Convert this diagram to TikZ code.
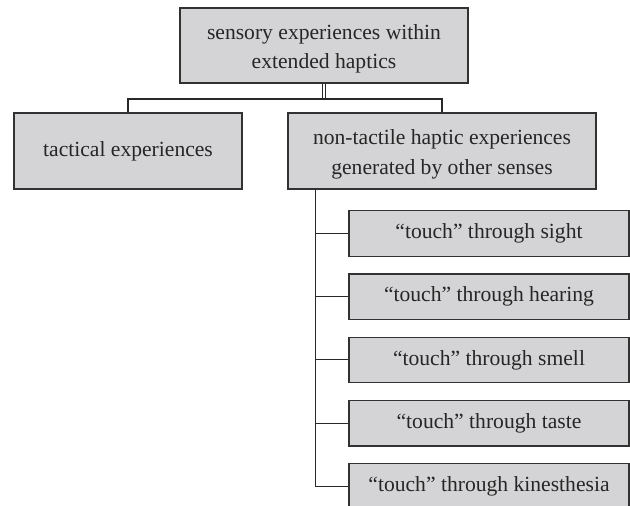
\documentclass[tikz,border=0pt]{standalone}
\usepackage{fontspec}
\setmainfont{Liberation Serif}
\definecolor{boxfill}{RGB}{212,212,214}
\definecolor{boxline}{RGB}{50,50,50}
\definecolor{wireline}{RGB}{40,40,40}
\newcommand{\toppad}{\rule{0pt}{22pt}}
\begin{document}
\begin{tikzpicture}[x=1pt,y=-1pt,
  box/.style={draw=boxline, line width=1.2pt, fill=boxfill, align=center,
    inner sep=0pt, font=\fontsize{21.6}{29.5}\selectfont, text=black!85},
  subbox/.style={box, minimum width=280pt, minimum height=45.5pt},
  wire/.style={draw=wireline, line width=1.1pt}]
\useasboundingbox (0,0) rectangle (630,506);
\clip (0,0) rectangle (630,506);
\node[box, minimum width=288pt, minimum height=75pt] (top) at (324,45.5)
  {\toppad sensory experiences within\\extended haptics};
\node[box, minimum width=228pt, minimum height=76pt] (tact) at (128,151)
  {\raisebox{-1.5pt}{tactical experiences}};
\node[box, minimum width=308pt, minimum height=76pt] (nont) at (442,151)
  {\toppad non-tactile haptic experiences\\generated by other senses};
\node[subbox] (sight) at (489,233.4) {“touch” through sight};
\node[subbox] (hearing) at (489,296.7) {“touch” through hearing};
\node[subbox] (smell) at (489,359.9) {“touch” through smell};
\node[subbox] (taste) at (489,423.2) {“touch” through taste};
\node[subbox] (kin) at (489,486.4) {“touch” through kinesthesia};
\coordinate (bus) at (323,99);
\draw[wire] ([xshift=-1.5pt]top.south) -- ([xshift=-1.5pt]top.south |- bus);
\draw[wire] ([xshift=1.5pt]top.south) -- ([xshift=1.5pt]top.south |- bus);
\draw[wire] (tact.north) |- (bus) -| (nont.north);
\coordinate (sp) at ([xshift=27.7pt]nont.south west);
\draw[wire] (sp) |- (kin.west);
\foreach \n in {sight,hearing,smell,taste}
  \draw[wire] (sp |- \n.west) -- (\n.west);
\end{tikzpicture}
\end{document}
